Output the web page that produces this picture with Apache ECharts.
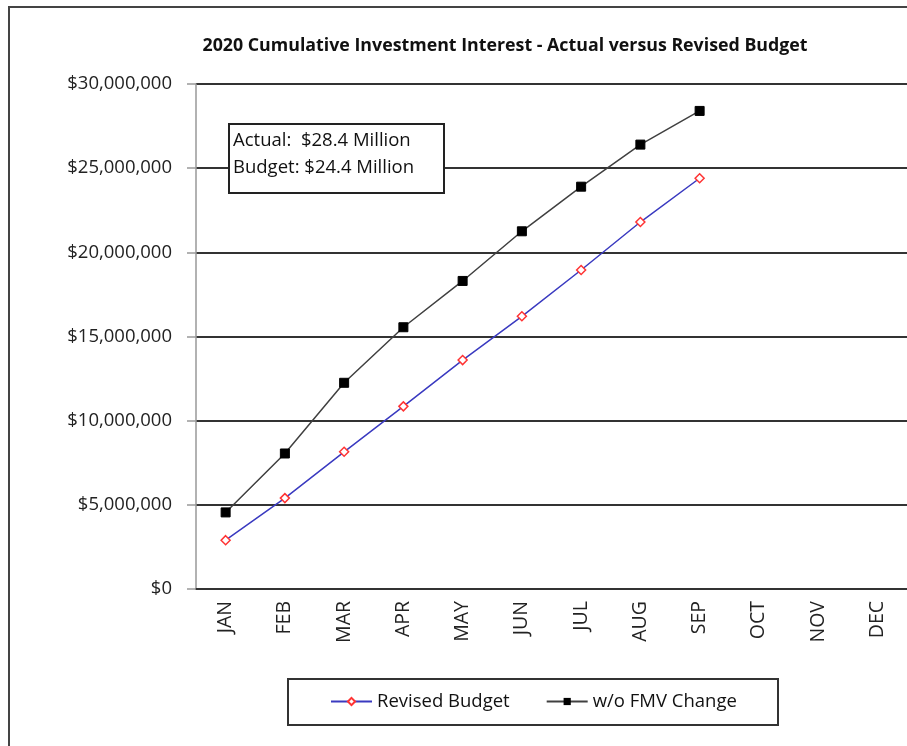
<!DOCTYPE html>
<html>
<head>
<meta charset="utf-8">
<script src="https://cdn.jsdelivr.net/npm/echarts@6/dist/echarts.min.js"></script>
<style>
  html, body { margin: 0; padding: 0; background: #fff; }
  #chart { width: 907px; height: 746px; }
</style>
</head>
<body>
<div id="chart"></div>
<script>
// months on the category axis
const months = ['JAN', 'FEB', 'MAR', 'APR', 'MAY', 'JUN', 'JUL', 'AUG', 'SEP', 'OCT', 'NOV', 'DEC'];

// cumulative interest (Jan..Sep)
const revisedBudget = [2900000, 5400000, 8150000, 10850000, 13600000, 16200000, 18950000, 21800000, 24400000];
const withoutFmv    = [4550000, 8050000, 12250000, 15550000, 18300000, 21250000, 23900000, 26400000, 28400000];

const titleText = '2020 Cumulative Investment Interest - Actual versus Revised Budget';
const noteLines = ['Actual:  $28.4 Million', 'Budget: $24.4 Million'];

const FONT = 'Open Sans, sans-serif';

const fmtMoney = v => '$' + Math.round(v).toLocaleString('en-US');

const chart = echarts.init(document.getElementById('chart'));
chart.setOption({
    backgroundColor: '#fff',
    animation: false,
    title: {
        text: titleText,
        left: 500,
        textAlign: 'center',
        top: 32,
        textStyle: { fontFamily: FONT, fontSize: 17.8, fontWeight: 'bold', color: '#111' },
    },
    grid: { left: 196, top: 84, width: 718, height: 505, containLabel: false },
    legend: {
        left: 330,
        top: 692,
        padding: 0,
        itemWidth: 41,
        itemHeight: 9,
        itemGap: 36,
        textStyle: { fontFamily: FONT, fontSize: 18.5, color: '#111' },
        data: ['Revised Budget', 'w/o FMV Change'],
    },
    xAxis: {
        type: 'category',
        data: months,
        boundaryGap: true,
        axisLine: { show: true, lineStyle: { color: '#333', width: 2 } },
        axisTick: { show: false },
        axisLabel: { rotate: 90, margin: 12, fontFamily: FONT, fontSize: 19.5, color: '#222' },
        splitLine: { show: false },
    },
    yAxis: {
        type: 'value',
        min: 0,
        max: 30000000,
        interval: 5000000,
        axisLine: { show: true, lineStyle: { color: '#999', width: 1.5 } },
        axisTick: { show: true, length: 9, lineStyle: { color: '#999', width: 1.5 } },
        axisLabel: { margin: 24, fontFamily: FONT, fontSize: 18.5, color: '#222', formatter: fmtMoney },
        splitLine: { show: true, lineStyle: { color: '#333', width: 2 } },
    },
    series: [
        {
            name: 'Revised Budget',
            type: 'line',
            data: revisedBudget,
            symbol: 'diamond',
            symbolSize: 9,
            showAllSymbol: true,
            lineStyle: { color: '#3a3ac0', width: 1.5 },
            itemStyle: { color: '#fff', borderColor: '#ff3333', borderWidth: 1.5 },
            z: 3,
        },
        {
            name: 'w/o FMV Change',
            type: 'line',
            data: withoutFmv,
            symbol: 'rect',
            symbolSize: 9,
            showAllSymbol: true,
            lineStyle: { color: '#404040', width: 1.5 },
            itemStyle: { color: '#000', borderColor: '#000' },
            z: 4,
        },
    ],
    graphic: [
        // outer chart frame (runs off the right and bottom edges)
        { type: 'rect', shape: { x: 9, y: 7, width: 960, height: 800 },
          style: { fill: 'none', stroke: '#444', lineWidth: 2 }, silent: true },
        // annotation box
        { type: 'rect', shape: { x: 229, y: 124, width: 215, height: 69 },
          style: { fill: '#fff', stroke: '#222', lineWidth: 2 }, z: 10 },
        { type: 'text', x: 233, y: 127, z: 11,
          style: { text: noteLines.join('\n'), lineHeight: 27, fontFamily: FONT, fontSize: 18.5, fill: '#111' } },
        // legend frame
        { type: 'rect', shape: { x: 288, y: 679, width: 490, height: 46 },
          style: { fill: 'none', stroke: '#333', lineWidth: 2 }, z: 1 },
    ],
});
</script>
</body>
</html>
